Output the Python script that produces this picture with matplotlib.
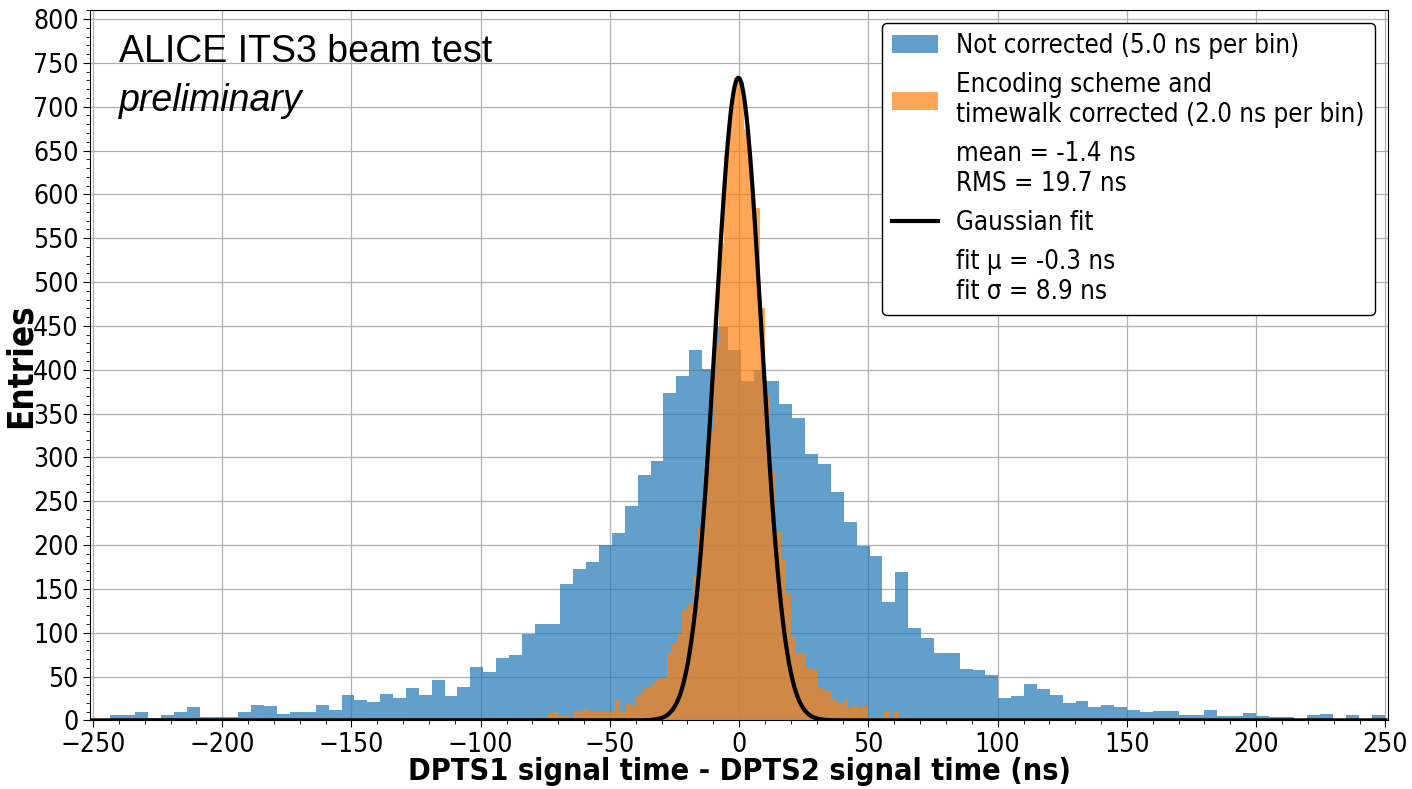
import numpy as np
import matplotlib
matplotlib.use("Agg")
import matplotlib.pyplot as plt
from matplotlib.lines import Line2D
from matplotlib.ticker import MultipleLocator

# uncorrected time difference, 100 bins between -248.5 and 249.7 ns
raw_edges = np.linspace(-248.5, 249.7, 101)
raw_counts = [
    1, 6, 6, 9, 3, 6, 9, 15, 4, 4,
    4, 9, 18, 16, 7, 9, 9, 18, 12, 29,
    23, 21, 30, 25, 37, 29, 46, 28, 38, 61,
    55, 71, 75, 99, 110, 110, 156, 173, 181, 200,
    214, 245, 280, 296, 373, 393, 423, 401, 449, 423,
    387, 400, 387, 361, 345, 304, 292, 261, 226, 199,
    188, 135, 169, 105, 94, 77, 77, 59, 58, 52,
    26, 28, 42, 36, 29, 20, 22, 15, 17, 15,
    12, 9, 11, 11, 6, 6, 12, 5, 5, 8,
    5, 4, 4, 2, 6, 7, 2, 6, 2, 6,
]

# encoding scheme + timewalk corrected, 2 ns bins from -100 to 100 ns
cor_edges = np.arange(-100, 102, 2)
cor_counts = [
    0, 2, 0, 4, 4, 1, 0, 1, 0, 1,
    0, 3, 1, 7, 9, 6, 6, 3, 11, 11,
    13, 10, 11, 9, 10, 9, 23, 10, 20, 18,
    29, 35, 37, 42, 46, 48, 77, 88, 99, 126,
    134, 166, 221, 285, 331, 430, 545, 645, 700, 733,
    728, 674, 607, 584, 470, 370, 285, 215, 183, 145,
    95, 77, 76, 60, 59, 37, 35, 33, 23, 20,
    23, 14, 18, 14, 16, 4, 3, 3, 9, 3,
    10, 1, 4, 1, 0, 1, 0, 0, 0, 0,
    0, 0, 0, 0, 0, 0, 0, 0, 0, 0,
]

raw_mean, raw_rms = -1.4, 19.7
fit_amp, fit_mu, fit_sigma = 733, -0.3, 8.9

fig = plt.figure(figsize=(14.12, 7.89), dpi=100)
ax = fig.add_axes([0.064, 0.087, 0.919, 0.9])

cond = dict(family="DejaVu Sans", stretch="condensed")

_, _, raw_bars = ax.hist(raw_edges[:-1], bins=raw_edges, weights=raw_counts, color="#1f77b4",
                         alpha=0.7, zorder=2)
_, _, cor_bars = ax.hist(cor_edges[:-1], bins=cor_edges, weights=cor_counts, color="#ff7f0e",
                         alpha=0.7, zorder=3)
blank = Line2D([], [], color="none")

xs = np.linspace(-250, 250, 2001)
fit_line, = ax.plot(xs, fit_amp * np.exp(-0.5 * ((xs - fit_mu) / fit_sigma) ** 2), color="black",
                    lw=3.0, zorder=4)

labels = [
    "Not corrected (5.0 ns per bin)",
    "Encoding scheme and\ntimewalk corrected (2.0 ns per bin)",
    f"mean = {raw_mean} ns\nRMS = {raw_rms} ns",
    "Gaussian fit",
    f"fit \u03bc = {fit_mu} ns\nfit \u03c3 = {fit_sigma} ns",
]
leg = ax.legend([raw_bars[0], cor_bars[0], blank, fit_line, blank], labels, loc="upper right",
                prop=dict(size=18.5, **cond), frameon=True, framealpha=1, edgecolor="black",
                handlelength=1.8, borderpad=0.4, labelspacing=0.5, handletextpad=0.7)
leg.get_frame().set_linewidth(1.0)

ax.set_xlim(-251, 251)
ax.set_ylim(0, 810)
ax.xaxis.set_major_locator(MultipleLocator(50))
ax.xaxis.set_minor_locator(MultipleLocator(10))
ax.yaxis.set_major_locator(MultipleLocator(50))
ax.yaxis.set_minor_locator(MultipleLocator(10))
ax.tick_params(which="major", length=5, labelsize=19)
ax.tick_params(which="minor", length=3)
for lab in ax.get_xticklabels() + ax.get_yticklabels():
    lab.set_fontstretch("condensed")
ax.grid(True, which="major", color="#b0b0b0", linewidth=0.9, zorder=0)
ax.set_axisbelow(True)

ax.set_xlabel("DPTS1 signal time - DPTS2 signal time (ns)", fontsize=22, fontweight="bold", **cond)
ax.set_ylabel("Entries", fontsize=25, fontweight="bold", **cond)
ax.xaxis.set_label_coords(0.5, -0.052)
ax.yaxis.set_label_coords(-0.041, 0.5)

ax.text(0.022, 0.967, "ALICE ITS3 beam test", transform=ax.transAxes, fontsize=27,
        family="Liberation Sans", va="top")
ax.text(0.022, 0.898, "preliminary", transform=ax.transAxes, fontsize=27,
        family="Liberation Sans", style="italic", va="top")

fig.savefig("out.png", dpi=100)
